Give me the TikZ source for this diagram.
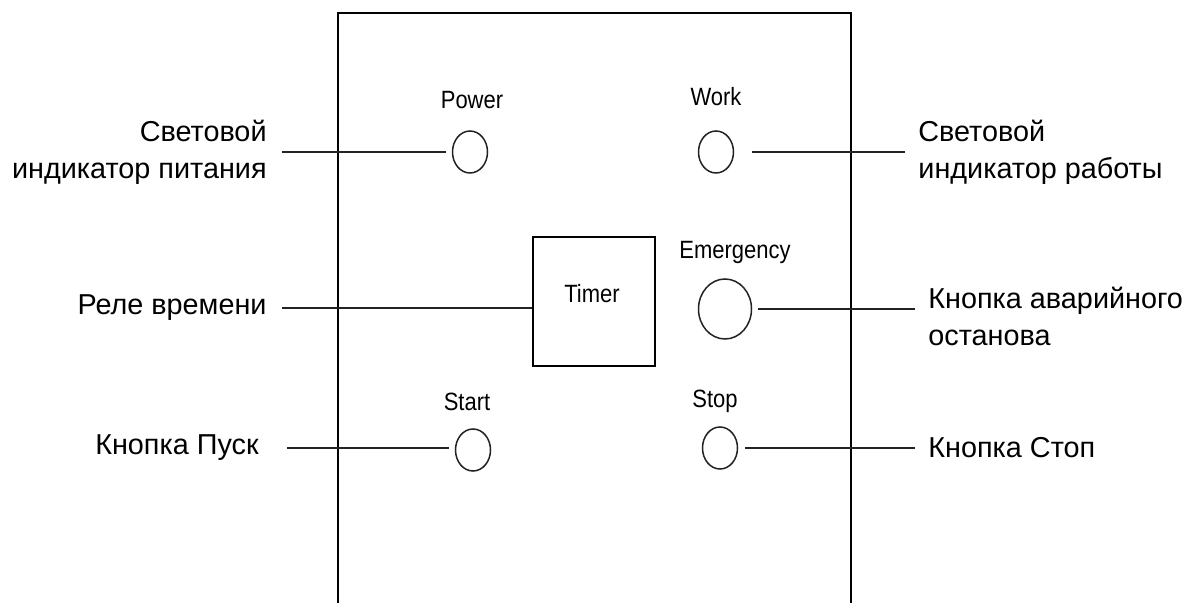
\documentclass[tikz,border=0pt]{standalone}
\usepackage{fontspec}
\setmainfont{Liberation Sans}
\newfontfamily\narrowfont[FakeStretch=0.88]{Liberation Sans}
\usetikzlibrary{positioning,shapes.geometric}
\definecolor{pline}{HTML}{222222}

\begin{document}
\begin{tikzpicture}[x=0.5pt, y=-0.5pt,
    lamp/.style={ellipse, draw=pline, line width=0.75pt, minimum width=17.5pt, minimum height=21pt, inner sep=0pt},
    bigbtn/.style={lamp, minimum width=26.5pt, minimum height=30pt},
    panellbl/.style={font=\narrowfont\fontsize{12.5}{14}\selectfont, inner sep=0pt},
    desc/.style={font=\fontsize{14.4}{18.5}\selectfont, inner sep=0pt},
    lead/.style={draw=pline, line width=1pt}
]
    \useasboundingbox (0,0) rectangle (1189,603);

    % panel
    \draw[line width=1pt] (338,603) |- (851,13) -- (851,603);

    % lamps and buttons
    \node[lamp] (power) at (470,152) {};
    \node[panellbl] (powertxt) at (472,100) {Power};
    \node[lamp] (work) at (716,152) {};
    \node[panellbl] (worktxt) at (716,97) {Work};
    \node[draw, line width=1pt, minimum width=61pt, minimum height=64.5pt] (timer) at (594,301.5) {};
    \node[panellbl] (timertxt) at (592,294) {Timer};
    \node[bigbtn] (emerg) at (725,309) {};
    \node[panellbl] (emergtxt) at (735,252) {Emergency};
    \node[lamp] (start) at (473,450) {};
    \node[panellbl] (starttxt) at (467,402) {Start};
    \node[lamp] (stop) at (720,448) {};
    \node[panellbl] (stoptxt) at (715,401) {Stop};

    % descriptions
    \node[desc, align=right, anchor=east] (powerdesc) at (267,152) {Световой\\индикатор питания};
    \node[desc, align=left, anchor=west] (workdesc) at (918,152) {Световой\\индикатор работы};
    \node[desc, anchor=east] (timerdesc) at (267,308) {Реле времени};
    \node[desc, align=left, anchor=west] (emergdesc) at (928,316) {Кнопка аварийного\\останова};
    \node[desc, anchor=east] (startdesc) at (259,448) {Кнопка Пуск};
    \node[desc, anchor=west] (stopdesc) at (928,448) {Кнопка Стоп};

    % leaders
    \draw[lead, shorten <=7.5pt, shorten >=3pt] (powerdesc.east) -- (powerdesc.east -| power.west);
    \draw[lead, shorten <=8.75pt, shorten >=6.5pt] (work.east) -- (work.east -| workdesc.west);
    \draw[lead, shorten <=7.5pt] (timerdesc.east) -- (timerdesc.east -| timer.west);
    \draw[lead, shorten <=2.75pt, shorten >=6.5pt] (emerg.east) -- (emerg.east -| emergdesc.west);
    \draw[lead, shorten <=14pt, shorten >=3pt] (startdesc.east) -- (startdesc.east -| start.west);
    \draw[lead, shorten <=3.25pt, shorten >=6.5pt] (stop.east) -- (stop.east -| stopdesc.west);
\end{tikzpicture}
\end{document}
